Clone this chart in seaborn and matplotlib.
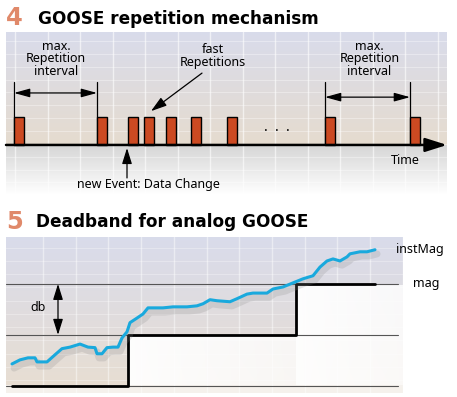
import numpy as np
import seaborn as sns
import matplotlib.pyplot as plt
import matplotlib.patheffects as pe

# --- data -------------------------------------------------------------
# panel 4: GOOSE telegram send times (time units), every telegram has height 1
telegram_times = [8, 91, 122, 138, 160, 185, 221, 319, 404]
telegram_width = 10
event_time = 121                       # new event: data change
interval_left = [8, 91]                # max. repetition interval (left)
interval_right = [319, 404]            # max. repetition interval (right)

# panel 5: analog value and its deadband-reported magnitude
inst_t = [6, 14, 22, 29, 31, 41, 49, 56, 64, 74, 82, 89, 91, 96, 101, 107, 112,
          116, 121, 124, 131, 137, 142, 157, 167, 181, 191, 197, 204, 211, 224,
          231, 241, 247, 261, 267, 277, 287, 297, 307, 314, 321, 327, 334, 341,
          344, 354, 361, 369]
inst_mag = [0.43, 0.51, 0.55, 0.55, 0.47, 0.47, 0.61, 0.73, 0.76, 0.82, 0.76,
            0.75, 0.63, 0.63, 0.75, 0.76, 0.76, 0.94, 1.06, 1.24, 1.33, 1.41,
            1.53, 1.53, 1.55, 1.55, 1.57, 1.61, 1.69, 1.67, 1.65, 1.71, 1.80,
            1.82, 1.82, 1.90, 1.94, 2.02, 2.10, 2.16, 2.33, 2.45, 2.49, 2.45,
            2.53, 2.59, 2.63, 2.63, 2.67]
mag_t = [6, 122, 290, 369]
mag = [0, 1, 2, 2]
deadband_levels = [0, 1, 2]

sns.set_theme(style="white")
plt.rcParams['font.family'] = ['Noto Sans', 'DejaVu Sans']
plt.rcParams['text.color'] = 'black'

W, H = 457, 397
fig = plt.figure(figsize=(W / 100, H / 100), dpi=100)
fig.patch.set_facecolor("white")

title_num = "#e0896a"
bar_red = "#cc4a22"
blue = "#19a9dd"


def vgrad(c0, c1, n):
    t = np.linspace(0, 1, n)[:, None]
    return (1 - t) * np.array(c0) + t * np.array(c1)


# ---------------- panel 4 ----------------
ax1 = fig.add_axes([6 / W, 1 - 195 / H, 441 / W, 163 / H])
y0, y1 = -1.79, 4.04
ax1.set_xlim(0, 441)
ax1.set_ylim(y0, y1)

# background: bluish to beige above the time axis, grey to white below
n_top, n_bot = 113, 50
top = vgrad((0.85, 0.86, 0.92), (0.90, 0.86, 0.81), n_top)
bot = vgrad((0.84, 0.84, 0.84), (1.0, 1.0, 1.0), n_bot)
img = np.concatenate([top, bot])[:, None, :].repeat(2, axis=1)
ax1.imshow(img, extent=(0, 441, y0, y1), aspect="auto", zorder=0)
for gx in np.arange(9, 441, 32.5):
    ax1.axvline(gx, color="white", lw=1, alpha=0.6, zorder=1)
for gy in np.arange(y0 + 0.45, y1, 0.46):
    ax1.axhline(gy, color="white", lw=0.8, alpha=0.35, zorder=1)

ax1.bar(telegram_times, [1] * len(telegram_times), width=telegram_width,
        align="edge", color=bar_red, edgecolor="black", lw=1.0, zorder=3)

# time axis arrow
ax1.annotate("", xy=(441, 0), xytext=(0, 0),
             arrowprops=dict(arrowstyle="-|>,head_length=1.1,head_width=0.35",
                             color="black", lw=1.8, shrinkA=0, shrinkB=0),
             zorder=4)
ax1.text(399, -0.57, "Time", ha="center", va="center", fontsize=9)

# interval markers
for t in interval_left + interval_right:
    ax1.plot([t, t], [0, 2.25], color="black", lw=0.9, zorder=2)
for (a, b), yy in [(interval_left, 1.86), (interval_right, 1.71)]:
    ax1.annotate("", xy=(b, yy), xytext=(a, yy),
                 arrowprops=dict(arrowstyle="<|-|>,head_length=0.8,head_width=0.22",
                                 color="black", lw=0.9, shrinkA=0, shrinkB=0))
for cx in [np.mean(interval_left) + 0.5, np.mean(interval_right) + 2]:
    ax1.text(cx, 3.09, "max.\nRepetition\ninterval", ha="center", va="center",
             fontsize=9, linespacing=0.95)

ax1.text(207, 3.18, "fast\nRepetitions", ha="center", va="center",
         fontsize=9, linespacing=0.95)
ax1.annotate("", xy=(145, 1.21), xytext=(196, 2.57),
             arrowprops=dict(arrowstyle="-|>,head_length=0.8,head_width=0.25",
                             color="black", lw=0.9, shrinkA=0, shrinkB=0))
ax1.text(271, 0.62, ".  .  .", ha="center", va="center", fontsize=10)

ax1.annotate("", xy=(event_time, -0.11), xytext=(event_time, -1.18),
             arrowprops=dict(arrowstyle="-|>,head_length=0.8,head_width=0.25",
                             color="black", lw=0.9, shrinkA=0, shrinkB=0))
ax1.text(142, -1.41, "new Event: Data Change", ha="center", va="center",
         fontsize=9)
ax1.set_axis_off()

# ---------------- panel 5 ----------------
ax2 = fig.add_axes([6 / W, 1 - 393 / H, 445 / W, 156 / H])
b0, b1 = -0.14, 2.92
ax2.set_xlim(0, 445)
ax2.set_ylim(b0, b1)

ny, nx = 156, 397
bg = vgrad((0.85, 0.86, 0.92), (0.91, 0.87, 0.82), ny)[:, None, :].repeat(nx, axis=1)
yy = np.linspace(b1, b0, ny)[:, None]
xx = np.arange(nx)[None, :]
step = np.interp(xx, [0, 121.9, 122, 289.9, 290, 397], [0, 0, 1, 1, 2, 2])
riser = np.where(xx < 290, 122, 290)
glow = np.where((yy < step - 0.02) & (xx >= 122),
                0.95 * np.exp(-(xx - riser) / 700.0), 0.0)
glow = np.where(yy < 0, 0.6, glow)
bg = bg * (1 - glow[..., None]) + glow[..., None] * np.array([1.0, 1.0, 1.0])
ax2.imshow(bg, extent=(0, 397, b0, b1), aspect="auto", zorder=0)
for gx in np.arange(37, 397, 32.7):
    ax2.axvline(gx, ymin=0, ymax=1, color="white", lw=1, alpha=0.45, zorder=1)
for gy in np.arange(b0 + 0.25, b1, 0.26):
    ax2.plot([0, 397], [gy, gy], color="white", lw=0.8, alpha=0.3, zorder=1)

for lv in deadband_levels:
    ax2.plot([0, 392], [lv, lv], color="#555555", lw=0.8, zorder=2)

sns.lineplot(x=mag_t, y=mag, drawstyle="steps-post", color="black", lw=2.0,
             estimator=None, ax=ax2, zorder=3)
sns.lineplot(x=inst_t, y=inst_mag, color=blue, lw=2.2, estimator=None, ax=ax2,
             zorder=4,
             path_effects=[pe.SimpleLineShadow(offset=(1.5, -3), shadow_color="#8a8a8a",
                                               alpha=0.22, linewidth=5),
                           pe.Normal()])

ax2.annotate("", xy=(52, 2), xytext=(52, 1),
             arrowprops=dict(arrowstyle="<|-|>,head_length=0.8,head_width=0.25",
                             color="black", lw=0.9, shrinkA=0, shrinkB=0))
ax2.text(32, 1.53, "db", ha="center", va="center", fontsize=9)
ax2.text(390, 2.67, "instMag", ha="left", va="center", fontsize=9)
ax2.text(407, 2.0, "mag", ha="left", va="center", fontsize=9)
ax2.set_axis_off()

# ---------------- titles ----------------
fig.text(6 / W, 1 - 25 / H, "4", color=title_num, fontsize=17.5,
         fontweight="bold", family="DejaVu Sans", va="baseline")
fig.text(38 / W, 1 - 24 / H, "GOOSE repetition mechanism", fontsize=12.2,
         fontweight="bold", family="DejaVu Sans", va="baseline", color="black")
fig.text(6 / W, 1 - 229 / H, "5", color=title_num, fontsize=17.5,
         fontweight="bold", family="DejaVu Sans", va="baseline")
fig.text(36 / W, 1 - 227 / H, "Deadband for analog GOOSE", fontsize=12.2,
         fontweight="bold", family="DejaVu Sans", va="baseline", color="black")

fig.savefig("out.png", dpi=100)
